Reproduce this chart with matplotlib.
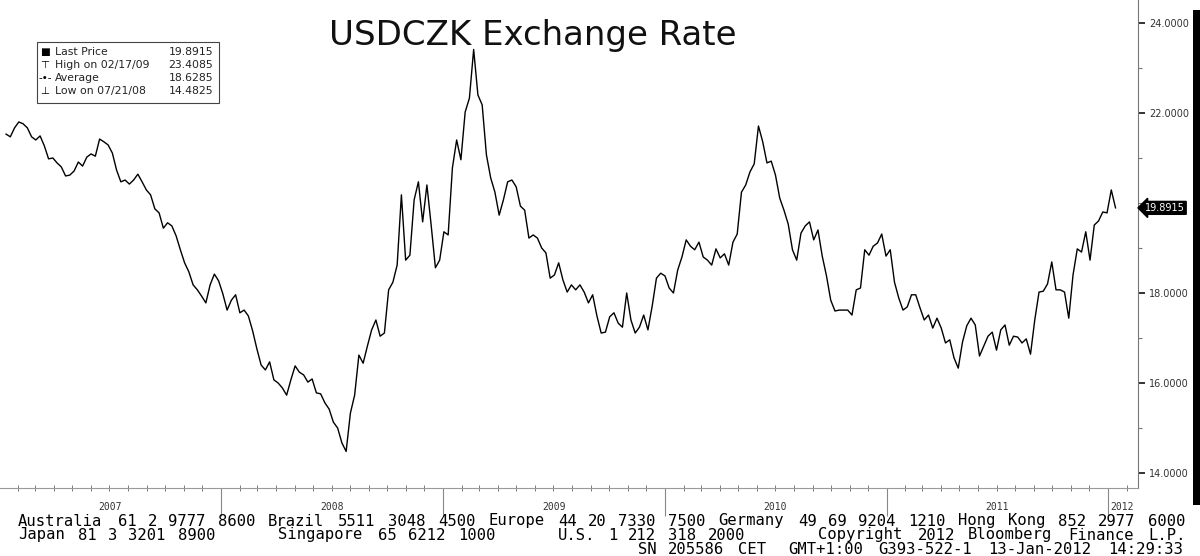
# USDCZK exchange rate, Bloomberg style chart
import re
import datetime
import numpy as np
import pandas as pd
import matplotlib
matplotlib.use('Agg')
import matplotlib.pyplot as plt
import matplotlib.dates as mdates
import matplotlib.transforms as mtransforms
from matplotlib.patches import Rectangle

# weekly closes (12-Jan-2007 .. 13-Jan-2012)
Week_dates = pd.date_range('2007-01-12', periods=262, freq='7D')
Usdczk = [
    21.53, 21.47, 21.67, 21.80, 21.76, 21.67, 21.47, 21.40, 21.49, 21.27,
    20.98, 21.00, 20.89, 20.80, 20.60, 20.62, 20.71, 20.91, 20.82, 21.02,
    21.09, 21.04, 21.42, 21.36, 21.29, 21.11, 20.73, 20.47, 20.51, 20.42,
    20.51, 20.64, 20.47, 20.29, 20.18, 19.87, 19.78, 19.44, 19.56, 19.49,
    19.27, 18.96, 18.67, 18.47, 18.18, 18.07, 17.93, 17.78, 18.18, 18.42,
    18.27, 17.98, 17.62, 17.84, 17.96, 17.56, 17.62, 17.49, 17.16, 16.76,
    16.40, 16.29, 16.47, 16.07, 16.00, 15.89, 15.73, 16.07, 16.38, 16.24,
    16.18, 16.02, 16.09, 15.78, 15.76, 15.56, 15.42, 15.13, 15.00, 14.67,
    14.48, 15.33, 15.73, 16.62, 16.44, 16.82, 17.18, 17.40, 17.04, 17.11,
    18.07, 18.24, 18.62, 20.18, 18.73, 18.84, 20.07, 20.47, 19.58, 20.40,
    19.51, 18.56, 18.73, 19.36, 19.29, 20.78, 21.40, 20.96, 22.02, 22.33,
    23.41, 22.40, 22.18, 21.07, 20.56, 20.24, 19.73, 20.07, 20.47, 20.51,
    20.36, 19.93, 19.84, 19.22, 19.29, 19.22, 19.00, 18.89, 18.33, 18.40,
    18.67, 18.29, 18.02, 18.18, 18.07, 18.18, 18.02, 17.78, 17.96, 17.49,
    17.11, 17.13, 17.47, 17.56, 17.33, 17.24, 18.00, 17.40, 17.11, 17.24,
    17.51, 17.18, 17.71, 18.33, 18.44, 18.38, 18.11, 18.00, 18.51, 18.80,
    19.18, 19.04, 18.96, 19.13, 18.80, 18.73, 18.62, 18.98, 18.78, 18.87,
    18.62, 19.13, 19.31, 20.24, 20.40, 20.69, 20.87, 21.71, 21.36, 20.89,
    20.93, 20.62, 20.11, 19.84, 19.53, 18.96, 18.73, 19.33, 19.49, 19.58,
    19.18, 19.40, 18.82, 18.38, 17.84, 17.60, 17.62, 17.62, 17.62, 17.51,
    18.07, 18.11, 18.96, 18.84, 19.04, 19.11, 19.31, 18.82, 18.96, 18.24,
    17.89, 17.62, 17.69, 17.96, 17.96, 17.67, 17.40, 17.51, 17.22, 17.44,
    17.22, 16.89, 16.96, 16.56, 16.33, 16.91, 17.27, 17.44, 17.29, 16.60,
    16.82, 17.04, 17.13, 16.73, 17.18, 17.29, 16.84, 17.04, 17.02, 16.89,
    16.98, 16.64, 17.40, 18.02, 18.04, 18.20, 18.69, 18.07, 18.07, 18.02,
    17.44, 18.40, 18.98, 18.91, 19.36, 18.73, 19.51, 19.60, 19.80, 19.78,
    20.29, 19.8915,
]

Last_price = 19.8915
Legend_icons = ['\u25a0', '\u22a4', '-\u2022-', '\u22a5']
Legend_names = ['Last Price', 'High on 02/17/09', 'Average', 'Low on 07/21/08']
Legend_values = ['19.8915', '23.4085', '18.6285', '14.4825']

Y_major = [14, 16, 18, 22, 24]
Y_minor = [15, 17, 19, 20, 21, 23]

Year_labels = ['2007', '2008', '2009', '2010', '2011', '2012']
Year_label_dates = ['2007-07-02', '2008-07-02', '2009-07-02', '2010-07-02', '2011-07-02', '2012-01-05']

# footer lines, laid out on a fixed character grid
Footer_lines = [
    'Australia 61 2 9777 8600 Brazil 5511 3048 4500 Europe 44 20 7330 7500 Germany 49 69 9204 1210 Hong Kong 852 2977 6000',
    'Japan 81 3 3201 8900      Singapore 65 6212 1000      U.S. 1 212 318 2000       Copyright 2012 Bloomberg Finance L.P.',
    '                                                              SN 205586 CET  GMT+1:00 G393-522-1 13-Jan-2012 14:29:33',
]

W, H = 1200, 556
def fx(px):
    return px / W
def fy(py):
    return 1 - py / H

fig = plt.figure(figsize=(12, 5.56), dpi=100)
ax = fig.add_axes([0, fy(488), fx(1138), 488 / H])

ax.plot(Week_dates, Usdczk, color='black', linewidth=1.0)

ax.set_xlim(datetime.datetime(2007, 1, 2), datetime.datetime(2012, 2, 19))
ax.set_ylim(13.667, 24.51)

for side in ['left', 'top']:
    ax.spines[side].set_visible(False)
ax.spines['right'].set_color('#777777')
ax.spines['bottom'].set_color('#999999')

ax.yaxis.tick_right()
ax.set_yticks(Y_major)
ax.set_yticks(Y_minor, minor=True)
ax.set_yticklabels([f'{v:.4f}' for v in Y_major])
ax.tick_params(axis='y', which='major', direction='out', length=5, width=1.4, color='#333333',
               labelsize=7, labelcolor='#333333', pad=3)
ax.tick_params(axis='y', which='minor', direction='out', length=3, width=0.8, color='#777777')

ax.xaxis.set_major_locator(mdates.YearLocator())
ax.xaxis.set_minor_locator(mdates.MonthLocator())
ax.tick_params(axis='x', which='major', direction='out', length=20, width=0.8, color='#888888',
               labelbottom=False)
ax.tick_params(axis='x', which='minor', direction='inout', length=5, width=0.7, color='#777777')

# year labels under the axis
trans_x = mtransforms.blended_transform_factory(ax.transData, fig.transFigure)
for lab, d in zip(Year_labels, Year_label_dates):
    ha = 'left' if lab == '2012' else 'center'
    ax.text(pd.Timestamp(d), fy(507), lab, transform=trans_x, ha=ha, va='center',
            fontsize=7, family='DejaVu Sans Mono', color='#333333', clip_on=False)

# last price tag on the right axis
trans_y = mtransforms.blended_transform_factory(ax.transAxes, ax.transData)
ax.text(1.006, Last_price, f'{Last_price:.4f}', transform=trans_y, ha='left', va='center',
        fontsize=7, color='white', clip_on=False,
        bbox=dict(boxstyle='larrow,pad=0.15', fc='black', ec='black'))

# title
fig.text(fx(533), fy(35), 'USDCZK Exchange Rate', ha='center', va='center', fontsize=24.5,
         family='DejaVu Sans', color='#111111')

# legend box
fig.add_artist(Rectangle((fx(37), fy(103)), fx(219 - 37), (103 - 42) / H, transform=fig.transFigure,
                         facecolor='white', edgecolor='#444444', linewidth=0.8))
for i in range(4):
    yy = fy(52 + 13 * i)
    fig.text(fx(45), yy, Legend_icons[i], ha='center', va='center', fontsize=7.5, color='black')
    fig.text(fx(55), yy, Legend_names[i], ha='left', va='center', fontsize=7.8, color='#222222')
    fig.text(fx(213), yy, Legend_values[i], ha='right', va='center', fontsize=7.8, color='#222222')

# black bar at right edge
fig.add_artist(Rectangle((fx(1193), fy(505)), fx(7), (505 - 10) / H, transform=fig.transFigure,
                         facecolor='black', edgecolor='none'))

# footer: each word at its column (10 px per character)
for line, ypx in zip(Footer_lines, [521, 535, 549]):
    for m in re.finditer(r'\S+', line):
        fig.text(fx(18 + 10 * m.start()), fy(ypx), m.group(), ha='left', va='center',
                 fontsize=11.2, family='DejaVu Sans Mono', color='black')

plt.savefig('out.png', dpi=100)
